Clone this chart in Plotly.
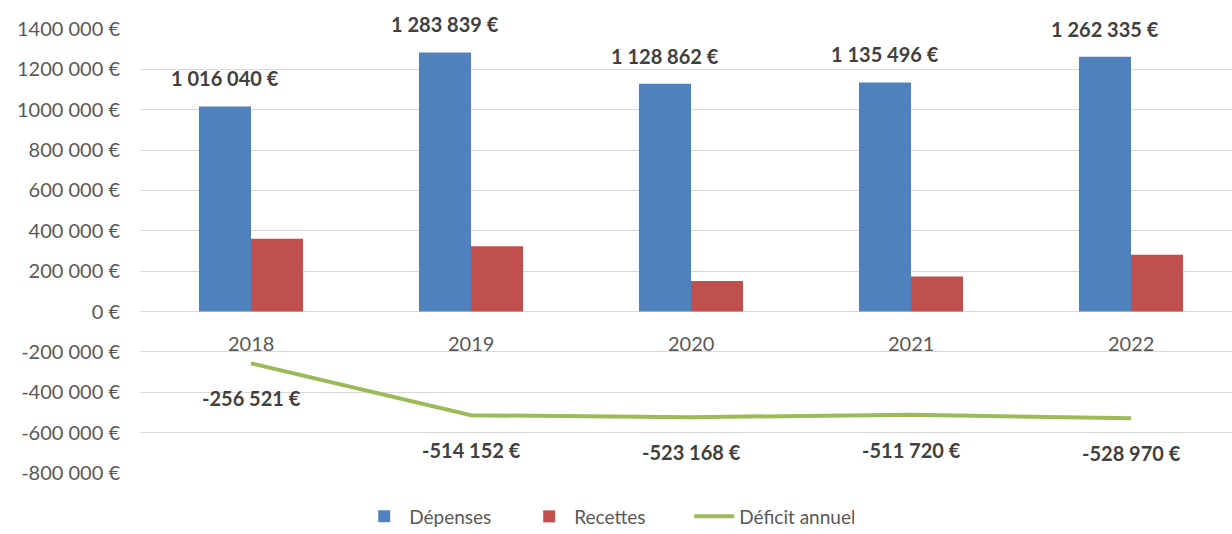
import plotly.graph_objects as go

years = ["2018", "2019", "2020", "2021", "2022"]
depenses = [1016040, 1283839, 1128862, 1135496, 1262335]
recettes = [361000, 323000, 151000, 174000, 282000]
deficit = [-256521, -514152, -523168, -511720, -528970]

ytick_vals = [1400000, 1200000, 1000000, 800000, 600000, 400000, 200000, 0,
              -200000, -400000, -600000, -800000]
ytick_text = ["1400 000 €", "1200 000 €", "1000 000 €", "800 000 €", "600 000 €",
              "400 000 €", "200 000 €", "0 €", "-200 000 €", "-400 000 €",
              "-600 000 €", "-800 000 €"]


def fmt(v):
    s = f"{abs(v):,}".replace(",", " ")
    return ("-" if v < 0 else "") + s + " €"


FONT = "Lato, 'Open Sans', sans-serif"
BLUE = "#4F81BD"
RED = "#C0504D"
GREEN = "#9BBB59"

fig = go.Figure()
fig.add_trace(go.Bar(x=years, y=depenses, name="Dépenses", marker_color=BLUE,
                     marker_line_width=0))
fig.add_trace(go.Bar(x=years, y=recettes, name="Recettes", marker_color=RED,
                     marker_line_width=0))
fig.add_trace(go.Scatter(x=years, y=deficit, name="Déficit annuel", mode="lines",
                         line=dict(color=GREEN, width=4)))

annotations = []
for i, v in enumerate(depenses):
    annotations.append(dict(x=i, y=v, xref="x", yref="y", text=fmt(v), showarrow=False,
                            xshift=-26, yshift=28,
                            font=dict(family=FONT, size=20, color="#404040", weight="bold")))
for i, v in enumerate(deficit):
    annotations.append(dict(x=i, y=v, xref="x", yref="y", text=fmt(v), showarrow=False,
                            yshift=-35,
                            font=dict(family=FONT, size=20, color="#404040", weight="bold")))
for i, yr in enumerate(years):
    annotations.append(dict(x=i, y=0, xref="x", yref="y", text=yr, showarrow=False,
                            yshift=-31,
                            font=dict(family=FONT, size=20, color="#595959")))

plot_left = 141
plot_right = 1232
cat_px = 220.0
xmax = -0.5 + (plot_right - plot_left) / cat_px

fig.update_layout(
    width=1232, height=534,
    margin=dict(l=plot_left, r=0, t=29, b=61, autoexpand=False),
    paper_bgcolor="white", plot_bgcolor="white",
    barmode="group", bargap=0.527, bargroupgap=0,
    font=dict(family=FONT, size=18, color="#595959"),
    showlegend=True,
    legend=dict(orientation="h", x=0.2, xanchor="left", y=-0.098, yanchor="middle",
                font=dict(family=FONT, size=19, color="#595959"),
                itemwidth=40, entrywidth=110, entrywidthmode="pixels",
                traceorder="normal"),
    xaxis=dict(type="category", range=[-0.5, xmax], showticklabels=False, showgrid=False,
               zeroline=False, showline=False, ticks=""),
    yaxis=dict(range=[-800000, 1400000], tickvals=ytick_vals, ticktext=ytick_text,
               showgrid=True, gridcolor="#D9D9D9", gridwidth=1,
               zeroline=True, zerolinecolor="#D9D9D9", zerolinewidth=1,
               ticks="", ticklabelstandoff=20,
               tickfont=dict(family=FONT, size=20, color="#595959")),
    annotations=annotations,
)

fig.write_html("out.html", config={"displayModeBar": False},
               post_script="document.body.style.margin='0';")
